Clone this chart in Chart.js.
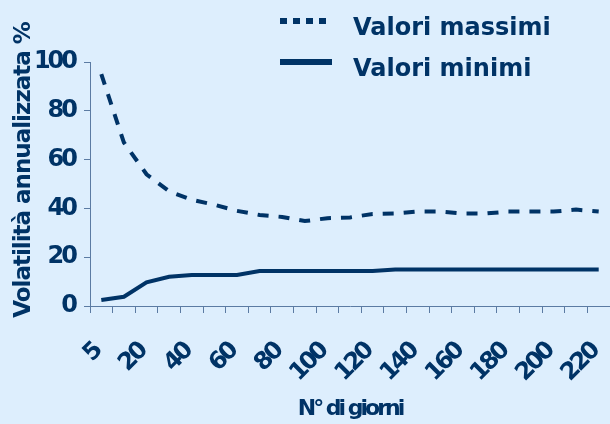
<!DOCTYPE html>
<html>
<head>
<meta charset="utf-8">
<script src="https://cdn.jsdelivr.net/npm/chart.js@4/dist/chart.umd.min.js"></script>
<style>
  html, body { margin: 0; padding: 0; background: #DDEEFD; overflow: hidden; }
  #wrap { position: relative; width: 610px; height: 424px; background: #DDEEFD; }
  canvas { position: absolute; left: 0; top: 0; }
  .lg-text { position: absolute; font-family: 'DejaVu Sans', sans-serif; font-weight: bold; font-size: 24px; line-height: 24px; color: #003366; white-space: nowrap; }
  .lg-dash { position: absolute; height: 6px; background: repeating-linear-gradient(to right, #003366 0 7px, transparent 7px 13px); }
  .lg-solid { position: absolute; height: 6px; background: #003366; }
</style>
</head>
<body>
<div id="wrap">
  <canvas id="c" width="610" height="424"></canvas>
  <div class="lg-dash" style="left:280px; top:18px; width:47px;"></div>
  <div class="lg-text" style="left:353px; top:15px;">Valori massimi</div>
  <div class="lg-solid" style="left:280px; top:59px; width:52px;"></div>
  <div class="lg-text" style="left:353px; top:56px;">Valori minimi</div>
</div>
<script>
const categories = ['5','10','20','30','40','50','60','70','80','90','100','110','120','130','140','150','160','170','180','190','200','210','220'];
const maxValues = [95, 67, 54, 47, 43.5, 41.5, 39, 37.3, 36.5, 34.8, 36, 36.3, 37.7, 37.9, 38.7, 38.7, 37.9, 37.9, 38.7, 38.7, 38.7, 39.5, 38.7];
const minValues = [2.5, 3.8, 9.7, 12, 12.7, 12.7, 12.7, 14.3, 14.3, 14.3, 14.3, 14.3, 14.3, 15, 15, 15, 15, 15, 15, 15, 15, 15, 15];
const yTicks = [0, 20, 40, 60, 80, 100];

const navy = '#003366';
const axisColor = '#5B7BA3';
const fam = "'DejaVu Sans', sans-serif";

// condensed text, as in the original chart: letter spacing per scale part
function wrapSpacing(scale, method, spacing) {
  const key = '_sp_' + method;
  if (scale[key]) return;
  const orig = scale[method];
  scale[method] = function (...args) {
    const ctx = this.ctx;
    ctx.save();
    ctx.letterSpacing = spacing;
    const r = orig.apply(this, args);
    ctx.restore();
    return r;
  };
  scale[key] = true;
}
const spacingPlugin = {
  id: 'spacing',
  beforeDraw(chart) {
    const { x, y } = chart.scales;
    wrapSpacing(x, 'drawLabels', '-3px');
    wrapSpacing(x, 'drawTitle', '-3px');
    wrapSpacing(y, 'drawLabels', '-3px');
    wrapSpacing(y, 'drawTitle', '-1px');
  }
};

new Chart(document.getElementById('c'), {
  type: 'line',
  data: {
    labels: categories,
    datasets: [
      { label: 'Valori massimi', data: maxValues, borderColor: navy, borderWidth: 4, borderDash: [11, 10], pointRadius: 0, tension: 0, fill: false },
      { label: 'Valori minimi', data: minValues, borderColor: navy, borderWidth: 4, pointRadius: 0, tension: 0, fill: false }
    ]
  },
  options: {
    responsive: false,
    devicePixelRatio: 1,
    animation: false,
    layout: { padding: { top: 62, right: 0, left: 0, bottom: 0 } },
    plugins: { legend: { display: false }, tooltip: { enabled: false } },
    scales: {
      x: {
        offset: true,
        grid: { offset: true, drawOnChartArea: false, drawTicks: true, tickLength: 7, color: axisColor, lineWidth: 1 },
        border: { color: axisColor, width: 1 },
        ticks: {
          autoSkip: false, minRotation: 45, maxRotation: 45, padding: 25, labelOffset: -4,
          color: navy, font: { family: fam, size: 24, weight: 'bold' },
          callback: (v, i) => (i % 2 === 0 ? categories[i] : '')
        },
        title: { display: true, text: 'N° di giorni', color: navy, font: { family: fam, size: 22, weight: 'bold' }, padding: { top: 0, bottom: 2 } },
        afterFit(s) { s.height = 118; s.paddingRight = 0; s.paddingLeft = 0; }
      },
      y: {
        min: 0, max: 100,
        afterBuildTicks(s) { s.ticks = yTicks.map(v => ({ value: v })); },
        grid: { drawOnChartArea: false, drawTicks: true, tickLength: 6, color: axisColor, lineWidth: 1 },
        border: { color: axisColor, width: 1 },
        ticks: { color: navy, padding: 9, font: { family: fam, size: 24, weight: 'bold' } },
        title: { display: true, text: '    Volatilità annualizzata %', color: navy, font: { family: fam, size: 23, weight: 'bold' }, padding: { top: 10, bottom: 0 } },
        afterFit(s) { s.width = 90; }
      }
    }
  },
  plugins: [spacingPlugin]
});
</script>
</body>
</html>
